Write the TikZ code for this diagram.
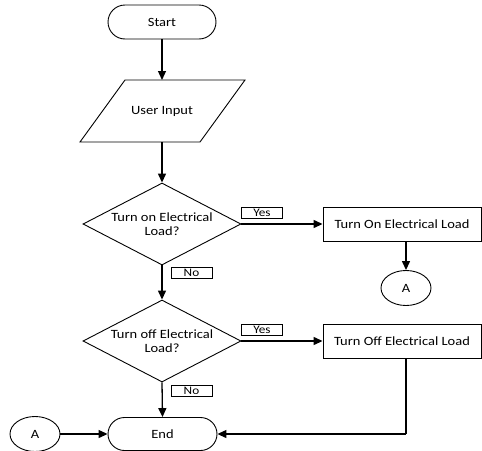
\documentclass[tikz,border=0pt]{standalone}
\usepackage{fontspec}
\setmainfont{Carlito}[FakeStretch=1.15]
\usetikzlibrary{shapes.geometric,shapes.misc,arrows.meta}
\begin{document}
\begin{tikzpicture}[x=1pt,y=-1pt,
  every node/.style={font=\fontsize{12.6}{14}\selectfont, line width=0.9pt},
  term/.style={draw, rounded rectangle, minimum width=108pt, minimum height=34pt, inner sep=0pt},
  decision/.style={draw, diamond, aspect=1.93, minimum width=158pt, minimum height=82pt, inner sep=0pt, align=center},
  proc/.style={draw, rectangle, minimum width=158pt, minimum height=34pt, inner sep=0pt},
  conn/.style={draw, ellipse, minimum width=50pt, minimum height=35pt, inner sep=0pt},
  lbl/.style={draw, rectangle, minimum width=41pt, minimum height=11pt, inner sep=0pt, line width=0.8pt, font=\fontsize{11.5}{12}\selectfont},
  arr/.style={line width=1.3pt, -{Triangle[length=9pt,width=8pt]}},
  ln/.style={line width=1.3pt}]
\useasboundingbox (0,0) rectangle (482,450);
\node[term] (start) at (162,22) {Start};
\coordinate (inpTop) at (162,80);
\coordinate (inpBot) at (162,142);
\draw[line width=0.9pt] (125,80) -- (245,80) -- (200,142) -- (80,142) -- cycle;
\node (inp) at (162,111) {User Input};
\node[decision] (d1) at (162,224) {Turn on Electrical\\Load?};
\node[proc] (p1) at (402,224) {Turn On Electrical Load};
\node[conn] (a1) at (406,288) {A};
\node[decision] (d2) at (162,341) {Turn off Electrical\\Load?};
\node[proc] (p2) at (402,341) {Turn Off Electrical Load};
\node[term, minimum width=109pt, minimum height=33pt] (end) at (162.5,434) {End};
\node[conn] (a2) at (35,434) {A};
\node[lbl] (y1) at (262,212.5) {Yes};
\node[lbl] (n1) at (191.5,273) {No};
\node[lbl] (y2) at (262,330) {Yes};
\node[lbl] (n2) at (191.5,391) {No};
\draw[arr] (start.south) -- (inpTop);
\draw[arr] (inpBot) -- (d1.north);
\draw[arr] (d1.east) -- (p1.west);
\draw[arr] (p1.south -| a1.north) -- (a1.north);
\draw[arr] (d1.south) -- (d2.north);
\draw[arr] (d2.east) -- (p2.west);
\draw[arr] (d2.south) -- (end.north);
\draw[arr] (a2.east) -- (end.west);
\draw[ln] (p2.south -| a1.north) -- (a1.north |- end.east);
\draw[arr] (a1.north |- end.east) -- (end.east);
\end{tikzpicture}
\end{document}
